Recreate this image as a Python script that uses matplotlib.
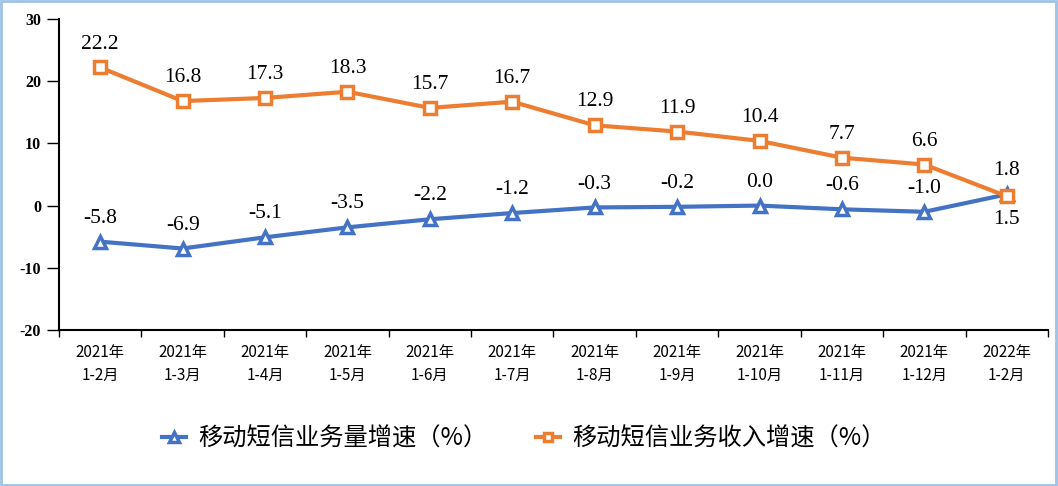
import numpy as np
import matplotlib.pyplot as plt
from matplotlib.patches import Rectangle

plt.rcParams['font.family'] = ['Noto Sans CJK SC', 'DejaVu Sans']

# --- Data ---
months = ['2021年\n1-2月', '2021年\n1-3月', '2021年\n1-4月', '2021年\n1-5月',
          '2021年\n1-6月', '2021年\n1-7月', '2021年\n1-8月', '2021年\n1-9月',
          '2021年\n1-10月', '2021年\n1-11月', '2021年\n1-12月', '2022年\n1-2月']
volume = [-5.8, -6.9, -5.1, -3.5, -2.2, -1.2, -0.3, -0.2, 0.0, -0.6, -1.0, 1.8]
revenue = [22.2, 16.8, 17.3, 18.3, 15.7, 16.7, 12.9, 11.9, 10.4, 7.7, 6.6, 1.5]
label_volume = '移动短信业务量增速（%）'
label_revenue = '移动短信业务收入增速（%）'

blue = '#4472C4'
orange = '#ED7D31'

# --- Plot ---
fig = plt.figure(figsize=(10.58, 4.86), dpi=100)
ax = fig.add_axes([0.0558, 0.321, 0.9347, 0.640])

x = np.arange(len(months))
ax.plot(x, volume, color=blue, lw=3, marker='^', ms=9, mfc='white',
        mec=blue, mew=2.5, label=label_volume, zorder=3)
ax.plot(x, revenue, color=orange, lw=3, marker='s', ms=8, mfc='white',
        mec=orange, mew=2.5, label=label_revenue, zorder=4)

serif = 'Liberation Serif'
for i, (v, r) in enumerate(zip(volume, revenue)):
    last = i == len(x) - 1
    ax.annotate(f'{v:.1f}', (i, v), xytext=(0, 10), textcoords='offset points',
                ha='center', va='bottom', fontsize=15.5, family=serif)
    ax.annotate(f'{r:.1f}', (i, r), xytext=(0, -10 if last else 10),
                textcoords='offset points', ha='center',
                va='top' if last else 'bottom', fontsize=15.5, family=serif)

ax.set_xlim(-0.5, len(x) - 0.5)
ax.set_ylim(-20, 30)
ax.set_yticks(range(-20, 31, 10))
ax.set_yticklabels([str(t) for t in range(-20, 31, 10)],
                   family=serif, fontweight='bold', fontsize=11.5)

ax.set_xticks(x)
ax.set_xticklabels(months, fontsize=11, linespacing=1.5)
ax.set_xticks(np.arange(-0.5, len(x), 1), minor=True)
ax.tick_params(axis='x', which='major', length=0, pad=10)
ax.tick_params(axis='x', which='minor', length=5, width=1)
ax.tick_params(axis='y', length=9, width=1, pad=4)

for s in ['top', 'right']:
    ax.spines[s].set_visible(False)
ax.spines['left'].set_linewidth(1.5)
ax.spines['bottom'].set_linewidth(1.5)

fig.legend(loc='center', bbox_to_anchor=(0.495, 0.098), ncol=2, frameon=False,
           fontsize=17.5, handlelength=1.0, columnspacing=2.0, handletextpad=0.5,
           markerscale=0.75)

fig.patches.append(Rectangle((0.001, 0.002), 0.997, 0.995, transform=fig.transFigure,
                             fill=False, edgecolor='#9DC3E6', lw=2))

plt.savefig('out.png', dpi=100)
